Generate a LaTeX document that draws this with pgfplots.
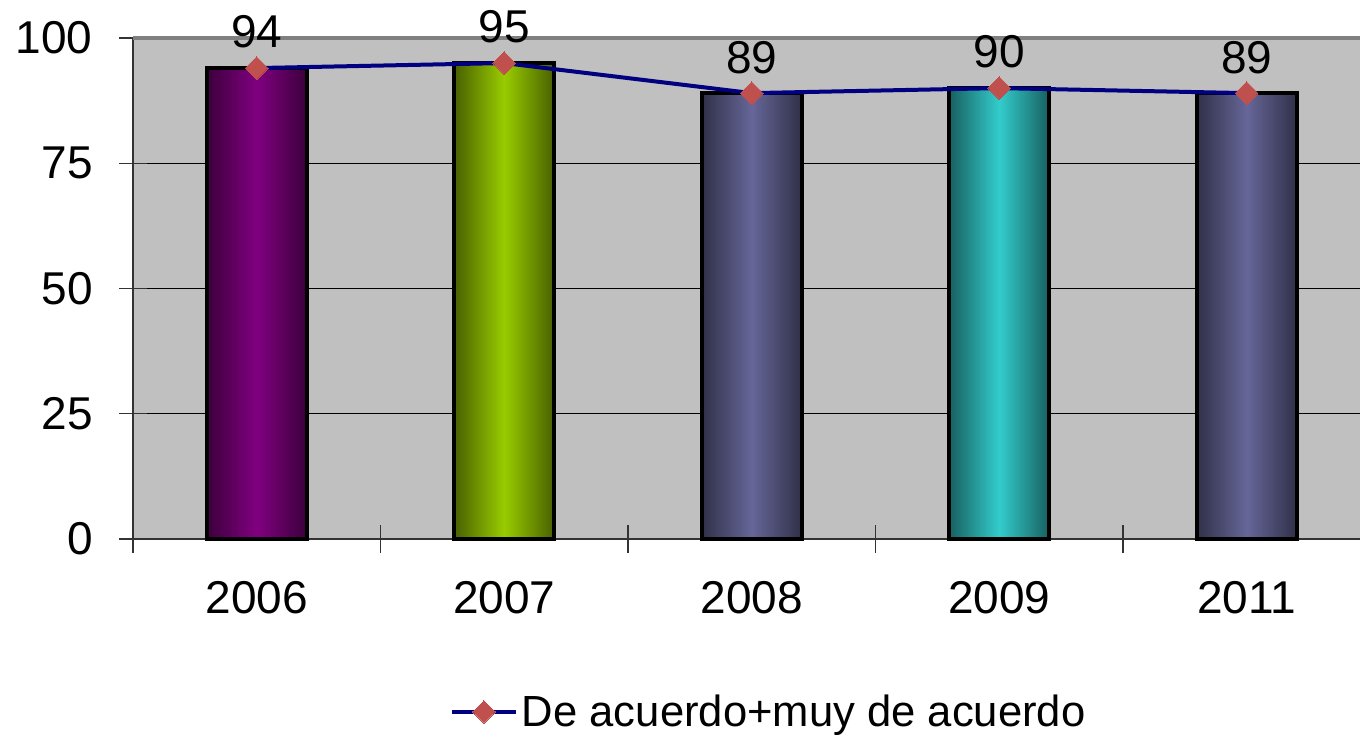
\documentclass[border=0pt]{standalone}
\usepackage{pgfplots}
\pgfplotsset{compat=1.18}
\usepackage{fontspec}
\setmainfont{Liberation Sans}

\definecolor{plotbg}{RGB}{192,192,192}
\definecolor{topline}{RGB}{128,128,128}
\definecolor{linenavy}{RGB}{0,0,128}
\definecolor{markred}{RGB}{192,80,77}
\definecolor{purpmid}{RGB}{128,0,128}
\definecolor{purpdark}{RGB}{60,0,60}
\definecolor{limemid}{RGB}{153,204,0}
\definecolor{limedark}{RGB}{72,96,0}
\definecolor{slatemid}{RGB}{102,102,153}
\definecolor{slatedark}{RGB}{48,48,72}
\definecolor{turqmid}{RGB}{51,204,204}
\definecolor{turqdark}{RGB}{24,96,96}

\begin{document}
\begin{tikzpicture}
\begin{axis}[
  name=ax,
  scale only axis,
  width=613.5pt, height=250.5pt,
  xmin=-0.5, xmax=4.458,
  ymin=0, ymax=100,
  axis x line*=bottom, axis y line*=left,
  axis line style={black!80, line width=1pt, -},
  axis background/.style={fill=plotbg},
  font=\fontsize{23}{27}\selectfont,
  /pgf/number format/assume math mode=true,
  ytick={0,25,50,75,100},
  ymajorgrids, grid style={black, line width=0.6pt},
  xtick={-0.5,0.5,1.5,2.5,3.5},
  xticklabels={},
  extra x ticks={0,1,2,3,4},
  extra x tick labels={2006,2007,2008,2009,2011},
  extra x tick style={major tick length=0pt, grid=none,
    xticklabel style={anchor=north, inner sep=0pt, yshift=-21pt}},
  tick align=center, major tick length=14pt,
  tick style={black!80, line width=0.6pt},
  yticklabel style={anchor=east, inner sep=0pt, xshift=-13pt},
  legend style={draw=none, fill=none, at={(rel axis cs:0.258,-0.345)}, anchor=west,
    font=\fontsize{21.8}{26}\selectfont, inner sep=0pt},
  legend image code/.code={
    \draw[mark repeat=2, mark phase=2, #1] plot coordinates {(0pt,0pt) (16pt,0pt) (32pt,0pt)};
  },
  clip=false,
]
\addplot[ybar, bar shift=0pt, bar width=50pt, draw=black, line width=2pt,
  left color=purpdark, right color=purpdark, middle color=purpmid, forget plot]
  coordinates {(0,94)};
\addplot[ybar, bar shift=0pt, bar width=50pt, draw=black, line width=2pt,
  left color=limedark, right color=limedark, middle color=limemid, forget plot]
  coordinates {(1,95)};
\addplot[ybar, bar shift=0pt, bar width=50pt, draw=black, line width=2pt,
  left color=slatedark, right color=slatedark, middle color=slatemid, forget plot]
  coordinates {(2,89)};
\addplot[ybar, bar shift=0pt, bar width=50pt, draw=black, line width=2pt,
  left color=turqdark, right color=turqdark, middle color=turqmid, forget plot]
  coordinates {(3,90)};
\addplot[ybar, bar shift=0pt, bar width=50pt, draw=black, line width=2pt,
  left color=slatedark, right color=slatedark, middle color=slatemid, forget plot]
  coordinates {(4,89)};
\addplot[color=linenavy, line width=2pt, mark=square*, mark size=4pt,
  mark options={fill=markred, draw=markred, line width=0pt, rotate=45},
  nodes near coords,
  nodes near coords style={black, anchor=south, yshift=6.5pt, font=\fontsize{23}{27}\selectfont}]
  coordinates {(0,94) (1,95) (2,89) (3,90) (4,89)};
\addlegendentry{De acuerdo+muy de acuerdo}
\draw[topline, line width=2pt] (rel axis cs:0,1) -- (rel axis cs:1,1);
\coordinate (bl) at (rel axis cs:0,0);
\end{axis}
\pgfresetboundingbox
\path (bl) ++(-66.5pt,-98.5pt) rectangle ++(680pt,368pt);
\end{tikzpicture}
\end{document}
